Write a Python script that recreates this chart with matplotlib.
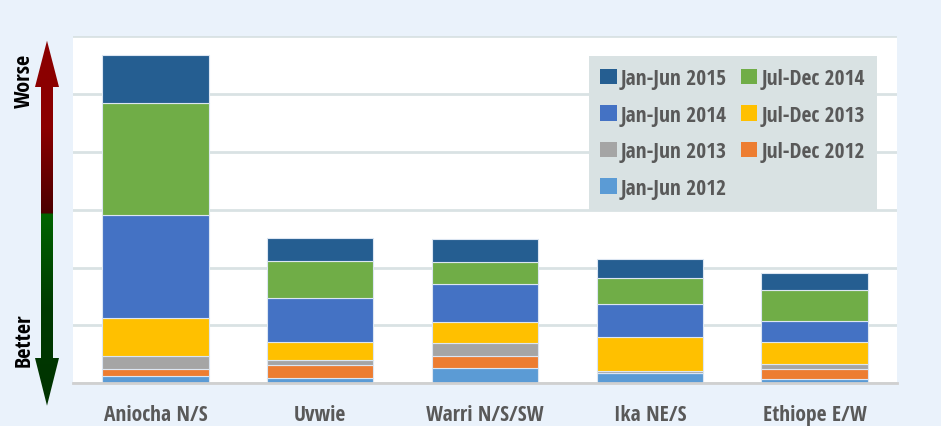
import numpy as np
import matplotlib.pyplot as plt
from matplotlib.patches import Polygon, Patch
from matplotlib.colors import LinearSegmentedColormap

plt.rcParams['font.family'] = ['Open Sans Condensed', 'DejaVu Sans']

# Zone (asse x) e periodi (serie impilate dal basso)
zones = ['Aniocha N/S', 'Uvwie', 'Warri N/S/SW', 'Ika NE/S', 'Ethiope E/W']
periods = ['Jan-Jun 2012', 'Jul-Dec 2012', 'Jan-Jun 2013', 'Jul-Dec 2013',
           'Jan-Jun 2014', 'Jul-Dec 2014', 'Jan-Jun 2015']

jan_jun_2012 = [0.13, 0.10, 0.27, 0.17, 0.07]
jul_dec_2012 = [0.11, 0.21, 0.21, 0.01, 0.17]
jan_jun_2013 = [0.24, 0.10, 0.21, 0.035, 0.10]
jul_dec_2013 = [0.65, 0.31, 0.375, 0.58, 0.37]
jan_jun_2014 = [1.78, 0.75, 0.645, 0.57, 0.375]
jul_dec_2014 = [1.94, 0.65, 0.38, 0.46, 0.52]
jan_jun_2015 = [0.82, 0.40, 0.41, 0.33, 0.31]

series = [jan_jun_2012, jul_dec_2012, jan_jun_2013, jul_dec_2013,
          jan_jun_2014, jul_dec_2014, jan_jun_2015]
colors = ['#5B9BD5', '#ED7D31', '#A5A5A5', '#FFC000',
          '#4472C4', '#70AD47', '#255E91']

W, H = 941, 427
fig = plt.figure(figsize=(W / 100, H / 100), dpi=100)
fig.patch.set_facecolor('#EAF2FB')

ax = fig.add_axes([73 / W, (H - 384.3) / H, 824 / W, 347 / H])
ax.set_facecolor('white')

x = np.arange(len(zones))
bottom = np.zeros(len(zones))
handles = {}
for name, vals, c in zip(periods, series, colors):
    vals = np.array(vals)
    ax.bar(x, vals, width=0.645, bottom=bottom, color=c,
           edgecolor='#DCE6F2', linewidth=0.8, zorder=3)
    handles[name] = Patch(facecolor=c, edgecolor='none')
    bottom += vals

ax.set_xlim(-0.5, 4.5)
ax.set_ylim(0, 6)
ax.set_yticks(np.arange(0, 7))
ax.set_yticklabels([])
ax.tick_params(axis='y', length=0)
ax.grid(axis='y', color='#D9E2E4', linewidth=2, zorder=0)
for s in ['left', 'right', 'top']:
    ax.spines[s].set_visible(False)
ax.spines['bottom'].set_color('#D0D0D0')
ax.spines['bottom'].set_linewidth(2)
ax.spines['bottom'].set_zorder(4)

ax.set_xticks(x)
ax.set_xticklabels(zones, fontsize=15.5, fontweight='bold', color='#595959')
ax.tick_params(axis='x', length=0, pad=15)

# ordine della legenda per righe
order = ['Jan-Jun 2015', 'Jan-Jun 2014', 'Jan-Jun 2013', 'Jan-Jun 2012',
         'Jul-Dec 2014', 'Jul-Dec 2013', 'Jul-Dec 2012']
leg = ax.legend([handles[k] for k in order], order, ncol=2,
                loc='upper right', bbox_to_anchor=(0.9754, 0.9424),
                frameon=True, fancybox=False, facecolor='#D9E2E3',
                edgecolor='none', framealpha=1,
                prop={'weight': 'bold', 'size': 15.5},
                handlelength=0.75, handleheight=0.72, handletextpad=0.2,
                labelspacing=0.72, columnspacing=0.65, borderpad=0.55,
                borderaxespad=0)
for t in leg.get_texts():
    t.set_color('#595959')
leg.set_zorder(5)

# freccia Worse / Better a sinistra
ov = fig.add_axes([0, 0, 1, 1])
ov.set_xlim(0, W)
ov.set_ylim(H, 0)
ov.axis('off')
ov.patch.set_alpha(0)

up = Polygon([(47, 41.7), (59, 88), (53, 88), (53, 215.5), (41, 215.5),
              (41, 88), (35, 88)], closed=True, facecolor='none', edgecolor='none')
down = Polygon([(41, 214.5), (53, 214.5), (53, 359), (59, 359), (47, 406.7),
                (35, 359), (41, 359)], closed=True, facecolor='none', edgecolor='none')
ov.add_patch(up)
ov.add_patch(down)

grad = np.linspace(0, 1, 256).reshape(-1, 1)
red_cm = LinearSegmentedColormap.from_list('r', ['#8B0000', '#8B0000', '#4A0000'])
green_cm = LinearSegmentedColormap.from_list('g', ['#006400', '#003A00', '#003300'])
im1 = ov.imshow(grad, cmap=red_cm, extent=(30, 64, 215.5, 41), aspect='auto',
                interpolation='bilinear')
im1.set_clip_path(up)
im2 = ov.imshow(grad, cmap=green_cm, extent=(30, 64, 407, 214.5), aspect='auto',
                interpolation='bilinear')
im2.set_clip_path(down)
ov.set_xlim(0, W)
ov.set_ylim(H, 0)

ov.text(24, 81, 'Worse', rotation=90, ha='center', va='center',
        fontsize=16, fontweight='bold', color='black')
ov.text(24, 340, 'Better', rotation=90, ha='center', va='center',
        fontsize=16, fontweight='bold', color='black')

plt.savefig('out.png', dpi=100, facecolor=fig.get_facecolor())
plt.close()
